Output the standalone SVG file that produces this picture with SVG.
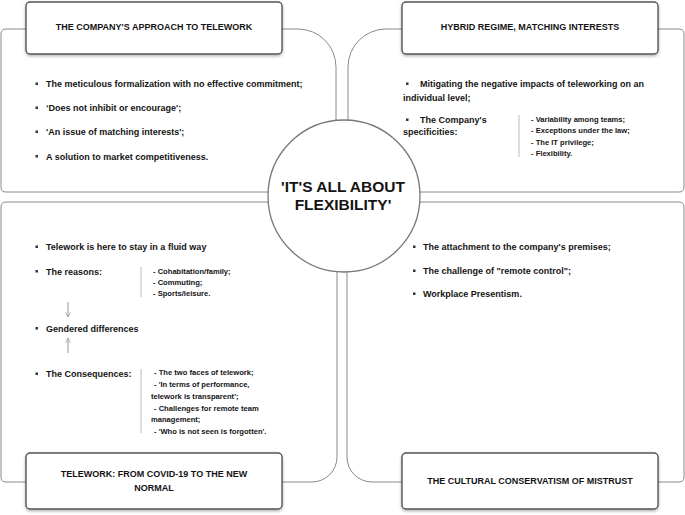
<svg xmlns="http://www.w3.org/2000/svg" width="685" height="515" viewBox="0 0 685 515">
<defs>
<filter id="sh" x="-10%" y="-20%" width="120%" height="150%">
<feDropShadow dx="0" dy="1.5" stdDeviation="1.5" flood-color="#000" flood-opacity="0.3"/>
</filter>
<marker id="ah" viewBox="0 0 10 10" refX="9" refY="5" markerWidth="6" markerHeight="6" orient="auto" markerUnits="userSpaceOnUse">
<path d="M1,1 L9,5 L1,9" fill="none" stroke="#999" stroke-width="1.2"/>
</marker>
</defs>
<style>
text{font-family:"Liberation Sans",Arial,sans-serif;font-weight:bold;fill:#141414}
.panel{fill:#fff;stroke:#8a8a8a;stroke-width:1}
.hdr{fill:#fff;stroke:#555;stroke-width:1.4}
.ht{font-size:9px;text-anchor:middle}
.b{font-size:9px}
.s{font-size:7.6px}
.sep{stroke:#bbb;stroke-width:1}
.dot{fill:#333}
.arr{stroke:#999;stroke-width:1;fill:none}
</style>
<rect width="685" height="515" fill="#fff"/>

<g id="panel-tl">
<path class="panel" d="M1,34 Q1,29 6,29 H298 A38,38 0 0 1 336,67 V187 Q336,192 331,192 H6 Q1,192 1,187 Z"/>
<rect class="dot" x="35.5" y="82.5" width="2.5" height="2.5"/>
<text class="b" x="46" y="87">The meticulous formalization with no effective commitment;</text>
<rect class="dot" x="35.5" y="106.5" width="2.5" height="2.5"/>
<text class="b" x="46" y="111">‘Does not inhibit or encourage';</text>
<rect class="dot" x="35.5" y="130.5" width="2.5" height="2.5"/>
<text class="b" x="46" y="135">'An issue of matching interests';</text>
<rect class="dot" x="35.5" y="155" width="2.5" height="2.5"/>
<text class="b" x="46" y="159.5">A solution to market competitiveness.</text>
</g>

<g id="panel-tr">
<path class="panel" d="M386,29 H679 Q684,29 684,34 V187 Q684,192 679,192 H353 Q348,192 348,187 V67 A38,38 0 0 1 386,29 Z"/>
<rect class="dot" x="406" y="82.5" width="2.5" height="2.5"/>
<text class="b" x="420" y="87">Mitigating the negative impacts of teleworking on an</text>
<text class="b" x="403" y="101">individual level;</text>
<rect class="dot" x="406" y="118.5" width="2.5" height="2.5"/>
<text class="b" x="420" y="123">The Company's</text>
<text class="b" x="403" y="135">specificities:</text>
<line class="sep" x1="519" y1="115" x2="519" y2="157"/>
<text class="s" x="531" y="121.5">- Variability among teams;</text>
<text class="s" x="531" y="133">- Exceptions under the law;</text>
<text class="s" x="531" y="144.5">- The IT privilege;</text>
<text class="s" x="531" y="156">- Flexibility.</text>
</g>

<g id="panel-bl">
<path class="panel" d="M1,207 Q1,202 6,202 H332 Q337,202 337,207 V457 A25,25 0 0 1 312,482 H6 Q1,482 1,477 Z"/>
<rect class="dot" x="35.5" y="245.5" width="2.5" height="2.5"/>
<text class="b" x="46" y="250">Telework is here to stay in a fluid way</text>
<rect class="dot" x="35.5" y="270" width="2.5" height="2.5"/>
<text class="b" x="46" y="274.5">The reasons:</text>
<line class="sep" x1="141" y1="267" x2="141" y2="297"/>
<text class="s" x="153" y="274">- Cohabitation/family;</text>
<text class="s" x="153" y="285">- Commuting;</text>
<text class="s" x="153" y="296">- Sports/leisure.</text>
<rect class="dot" x="35.5" y="327" width="2.5" height="2.5"/>
<text class="b" x="46" y="331.5">Gendered differences</text>
<rect class="dot" x="35.5" y="372.5" width="2.5" height="2.5"/>
<text class="b" x="46" y="377">The Consequences:</text>
<line class="sep" x1="141" y1="369" x2="141" y2="433"/>
<text class="s" x="154" y="375">- The two faces of telework;</text>
<text class="s" x="154" y="387">- 'In terms of performance,</text>
<text class="s" x="151" y="398.5">telework is transparent';</text>
<text class="s" x="154" y="410.5">- Challenges for remote team</text>
<text class="s" x="151" y="422">management;</text>
<text class="s" x="154" y="434">- 'Who is not seen is forgotten'.</text>
</g>

<g id="panel-br">
<path class="panel" d="M352,202 H679 Q684,202 684,207 V477 Q684,482 679,482 H372 A25,25 0 0 1 347,457 V207 Q347,202 352,202 Z"/>
<rect class="dot" x="413" y="245.5" width="2.5" height="2.5"/>
<text class="b" x="423" y="250">The attachment to the company's premises;</text>
<rect class="dot" x="413" y="269.5" width="2.5" height="2.5"/>
<text class="b" x="423" y="274">The challenge of "remote control";</text>
<rect class="dot" x="413" y="292.5" width="2.5" height="2.5"/>
<text class="b" x="423" y="297">Workplace Presentism.</text>
</g>

<g id="connectors">
<line class="arr" x1="68" y1="302" x2="68" y2="317" marker-end="url(#ah)"/>
<line class="arr" x1="68" y1="353" x2="68" y2="338" marker-end="url(#ah)"/>
</g>

<g id="hdr-tl">
<rect class="hdr" filter="url(#sh)" x="26" y="2" width="256" height="52" rx="4"/>
<text class="ht" x="154" y="30">THE COMPANY'S APPROACH TO TELEWORK</text>
</g>
<g id="hdr-tr">
<rect class="hdr" filter="url(#sh)" x="402" y="2" width="256" height="52" rx="4"/>
<text class="ht" x="530" y="30">HYBRID REGIME, MATCHING INTERESTS</text>
</g>
<g id="hdr-bl">
<rect class="hdr" filter="url(#sh)" x="26" y="453" width="256" height="56" rx="4"/>
<text class="ht" x="154" y="477">TELEWORK: FROM COVID-19 TO THE NEW</text>
<text class="ht" x="154" y="491">NORMAL</text>
</g>
<g id="hdr-br">
<rect class="hdr" filter="url(#sh)" x="402" y="453" width="256" height="56" rx="4"/>
<text class="ht" x="530" y="484">THE CULTURAL CONSERVATISM OF MISTRUST</text>
</g>

<g id="center">
<circle cx="344" cy="196" r="76" fill="#fff" stroke="#777" stroke-width="1.3"/>
<text x="343" y="192" font-size="15.5" text-anchor="middle">'IT'S ALL ABOUT</text>
<text x="343" y="210" font-size="15.5" text-anchor="middle">FLEXIBILITY'</text>
</g>
</svg>
